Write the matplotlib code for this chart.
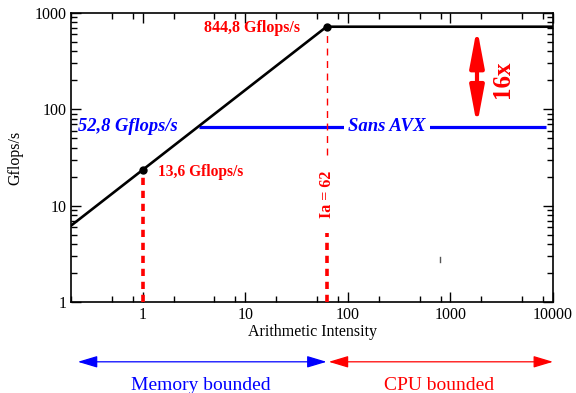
import numpy as np
import matplotlib
matplotlib.use('Agg')
import matplotlib.pyplot as plt
from matplotlib.ticker import LogLocator, FixedLocator, NullFormatter
import matplotlib.transforms as mtransforms

plt.rcParams['font.family'] = ['Liberation Serif', 'DejaVu Serif']

# roofline data (as drawn in the picture)
roof_x = [0.2, 62, 10000]
roof_y = [6.2, 720, 720]
knee_x, knee_y = 62, 720
mem_pt_x, mem_pt_y = 1, 23.5
noavx_x = [3.5, 8500]
noavx_y = [65.6, 65.6]
x_ticks = [1, 10, 100, 1000, 10000]
x_ticklabels = ['1', '10', '100', '1000', '10000']
y_ticks = [1, 10, 100, 1000]
y_ticklabels = ['1', '10', '100', '1000']
label_peak = '844,8 Gflops/s'
label_mem = '13,6 Gflops/s'
label_noavx = '52,8 Gflops/s'
label_ia = 'Ia = 62'
speedup = '16x'
speedup_top, speedup_bot, speedup_x = 700, 68, 1815

fig = plt.figure(figsize=(5.76, 3.93), dpi=100)
ax = fig.add_axes([0.1233, 0.2316, 0.8368, 0.7354])
ax.set_xscale('log')
ax.set_yscale('log')
ax.set_xlim(0.2, 10000)
ax.set_ylim(1, 1000)

red = '#ff0000'
blue = '#0000ff'

# blue "sans AVX" ceiling
ax.plot(noavx_x, noavx_y, color=blue, lw=2.3, zorder=2, solid_capstyle='butt')
ax.text(241, noavx_y[0], 'Sans AVX', color=blue, fontsize=13.5, fontweight='bold',
        style='italic', ha='center', va='center', zorder=3,
        bbox=dict(facecolor='white', edgecolor='none', pad=3))
ax.text(0.233, noavx_y[0], label_noavx, color=blue, fontsize=13.3, fontweight='bold',
        style='italic', ha='left', va='center', zorder=3)

# red dashed verticals
ax.plot([mem_pt_x, mem_pt_x], [1, mem_pt_y], color=red, lw=2.6, ls=(0, (2, 1.6)), zorder=4)
ax.plot([knee_x, knee_x], [33.6, knee_y], color=red, lw=1.0, ls=(0, (5, 4)), zorder=4)
ax.plot([knee_x, knee_x], [1, 5.2], color=red, lw=2.6, ls=(0, (2, 1.6)), zorder=4)
ax.text(knee_x, 13.2, label_ia, color=red, fontsize=11.5, fontweight='bold',
        rotation=90, ha='center', va='center')

# roofline
ax.plot(roof_x, roof_y, color='black', lw=1.9, zorder=5)
ax.plot([mem_pt_x, knee_x], [mem_pt_y, knee_y], 'o', color='black', ms=5, zorder=6)

ax.text(34.4, 690, label_peak, color=red, fontsize=11.5, fontweight='bold',
        ha='right', va='center')
ax.text(1.4, 22.4, label_mem, color=red, fontsize=11.2, fontweight='bold',
        ha='left', va='center')

# 16x arrow
ax.annotate('', xy=(speedup_x, speedup_top), xytext=(speedup_x, speedup_bot),
            arrowprops=dict(arrowstyle='<|-|>,head_length=1.6,head_width=0.3',
                            color=red, lw=3, mutation_scale=14, shrinkA=0, shrinkB=0))
ax.text(3200, 205, speedup, color=red, fontsize=18, fontweight='bold',
        rotation=90, ha='center', va='center')

# small stray mark
ax.plot([794, 794], [2.6, 2.93], color='#555555', lw=1)

# ticks
ax.xaxis.set_major_locator(FixedLocator(x_ticks))
ax.set_xticklabels(x_ticklabels)
ax.xaxis.set_minor_locator(LogLocator(base=10, subs=[2, 5, 8]))
ax.xaxis.set_minor_formatter(NullFormatter())
ax.yaxis.set_major_locator(FixedLocator(y_ticks))
ax.set_yticklabels(y_ticklabels)
ax.yaxis.set_minor_locator(LogLocator(base=10, subs=np.arange(2, 10)))
ax.yaxis.set_minor_formatter(NullFormatter())
ax.tick_params(which='both', direction='in', top=True, right=True, labelsize=11.5)
ax.tick_params(which='major', length=7, width=1)
ax.tick_params(which='minor', length=4, width=1)
for sp in ax.spines.values():
    sp.set_linewidth(1.2)

ax.set_xlabel('Arithmetic Intensity', fontsize=11.5, labelpad=1)
ax.set_ylabel('Gflops/s', fontsize=11.5, labelpad=8)

# bounded region arrows below the axes
trans = mtransforms.blended_transform_factory(ax.transData, ax.transAxes)
arrow_y = -0.207
ax.annotate('', xy=(0.233, arrow_y), xytext=(knee_x, arrow_y), xycoords=trans, textcoords=trans,
            arrowprops=dict(arrowstyle='<|-|>,head_length=1.0,head_width=0.3',
                            color=blue, lw=0.9, mutation_scale=12, shrinkA=0, shrinkB=0),
            annotation_clip=False)
ax.annotate('', xy=(knee_x * 1.05, arrow_y), xytext=(10000, arrow_y), xycoords=trans, textcoords=trans,
            arrowprops=dict(arrowstyle='<|-|>,head_length=1.0,head_width=0.3',
                            color=red, lw=0.9, mutation_scale=12, shrinkA=0, shrinkB=0),
            annotation_clip=False)
ax.text(3.7, -0.29, 'Memory bounded', color=blue, fontsize=14, ha='center', va='center',
        transform=trans, clip_on=False)
ax.text(770, -0.29, 'CPU bounded', color=red, fontsize=14, ha='center', va='center',
        transform=trans, clip_on=False)

fig.savefig('out.png', dpi=100)
